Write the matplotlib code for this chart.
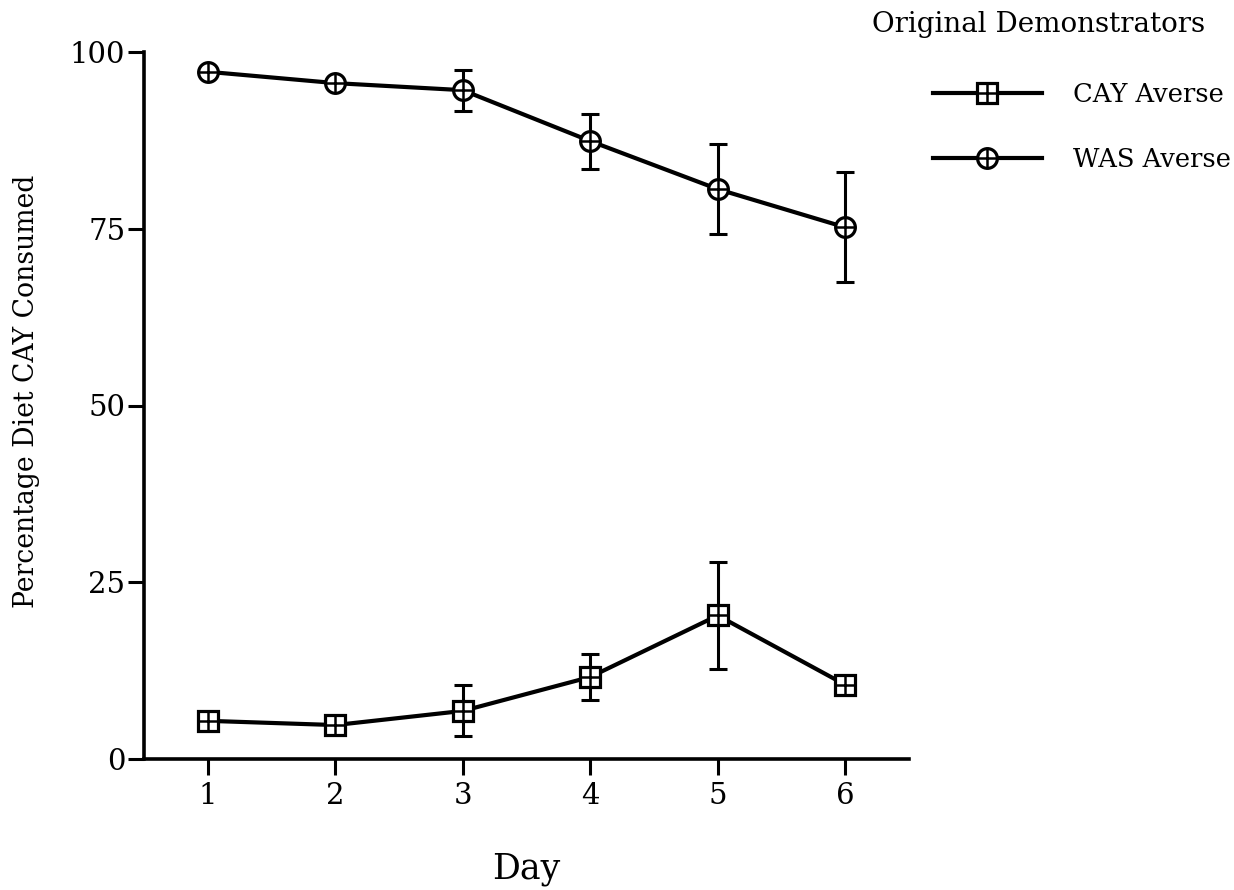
import matplotlib
matplotlib.use("Agg")
import matplotlib.pyplot as plt

days = [1, 2, 3, 4, 5, 6]
day_labels = ["1", "2", "3", "4", "5", "6"]
y_ticks = [0, 25, 50, 75, 100]

# CAY averse demonstrators
cay_mean = [5.4, 4.8, 6.8, 11.6, 20.3, 10.5]
cay_err = [0, 0, 3.6, 3.3, 7.5, 0]

# WAS averse demonstrators
was_mean = [97.2, 95.6, 94.6, 87.4, 80.6, 75.2]
was_err = [0, 0, 2.9, 3.9, 6.4, 7.8]

plt.rcParams['font.family'] = ['DejaVu Serif']

fig = plt.figure(figsize=(12.34, 8.9), dpi=100)
ax = fig.add_axes([144 / 1234, 1 - 759 / 890, 765 / 1234, 707 / 890])

def draw_series(mean, err, marker, ms):
    ax.errorbar(days, mean, yerr=err, fmt='none', ecolor='black',
                elinewidth=2.2, capsize=6.5, capthick=2.2, zorder=2)
    line, = ax.plot(days, mean, color='black', lw=3, marker=marker, ms=ms,
                    mfc='white', mec='black', mew=2.3, zorder=3)
    cross, = ax.plot(days, mean, ls='none', marker='+', ms=ms, mec='black',
                     mew=1.8, zorder=4)
    return line, cross

cay_handles = draw_series(cay_mean, cay_err, 's', 14.5)
was_handles = draw_series(was_mean, was_err, 'o', 14.2)

ax.set_xlim(0.5, 6.5)
ax.set_ylim(0, 100)
ax.set_xticks(days)
ax.set_xticklabels(day_labels)
ax.set_yticks(y_ticks)

for side in ['top', 'right']:
    ax.spines[side].set_visible(False)
for side in ['left', 'bottom']:
    ax.spines[side].set_linewidth(2.6)

ax.tick_params(axis='both', direction='out', length=11.5, width=2.2, labelsize=21)
ax.tick_params(axis='x', pad=5)
ax.tick_params(axis='y', pad=2)

ax.set_xlabel("Day", fontsize=25, labelpad=30)
ax.set_ylabel("Percentage Diet CAY Consumed", fontsize=19.2)
ax.yaxis.set_label_coords((40 - 144) / 765, (759 - 391) / 707)

fig.text(1205 / 1234, 1 - 32 / 890, "Original Demonstrators", fontsize=20,
         ha='right', va='baseline')
fig.legend([cay_handles, was_handles], ["CAY Averse", "WAS Averse"],
           loc='upper left', bbox_to_anchor=(933 / 1234, 1 - 82 / 890),
           frameon=False, fontsize=18.5, handlelength=4.24, handletextpad=1.2,
           labelspacing=1.55, borderpad=0, borderaxespad=0)

fig.savefig("out.png", dpi=100, facecolor='white')
